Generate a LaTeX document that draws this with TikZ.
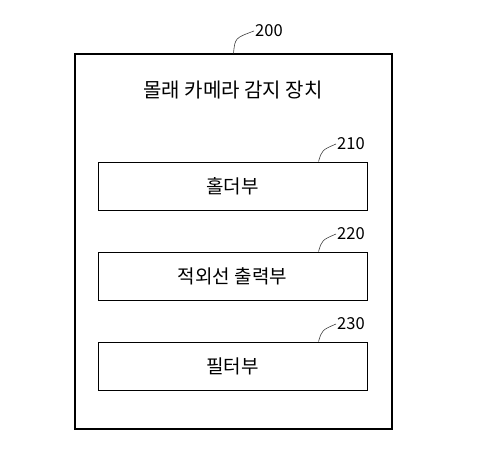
\documentclass[tikz,border=0pt]{standalone}
\usepackage{fontspec}
\usepackage{tikz}
\newfontfamily\kr{Noto Sans CJK KR}

\begin{document}
\begin{tikzpicture}[x=1pt,y=-1pt,
    unitbox/.style={draw=black, line width=1pt, minimum width=269pt, minimum height=48pt, inner sep=0pt, font=\kr\fontsize{19}{19}\selectfont},
    refnum/.style={font=\kr\fontsize{16.5}{16.5}\selectfont, inner sep=1pt},
    leader/.style={draw=black!75, line width=0.6pt}]
      \useasboundingbox (0,0) rectangle (478,468);
      \node[draw=black, line width=1.3pt, minimum width=317pt, minimum height=375pt] (dev) at (233.5,241.5) {};
      \node[font=\kr\fontsize{20}{20}\selectfont] (title) at (233,90) {몰래 카메라 감지 장치};
      \node[unitbox] (holder) at (232.5,186) {홀더부};
      \node[unitbox] (irout) at (232.5,276) {적외선 출력부};
      \node[unitbox] (filter) at (232.5,366) {필터부};
      % reference numerals
      \node[refnum, anchor=west] (n200) at (254,31) {200};
      \node[refnum, anchor=west] (n210) at (336,144) {210};
      \node[refnum, anchor=west] (n220) at (336,234) {220};
      \node[refnum, anchor=west] (n230) at (336,324) {230};
      \draw[leader] (dev.north) .. controls (235,38) .. (n200.west);
      \draw[leader] ([xshift=-49pt]holder.north east) .. controls (322,150) .. (n210.west);
      \draw[leader] ([xshift=-49pt]irout.north east) .. controls (322,240) .. (n220.west);
      \draw[leader] ([xshift=-49pt]filter.north east) .. controls (322,330) .. (n230.west);
   \end{tikzpicture}
\end{document}
